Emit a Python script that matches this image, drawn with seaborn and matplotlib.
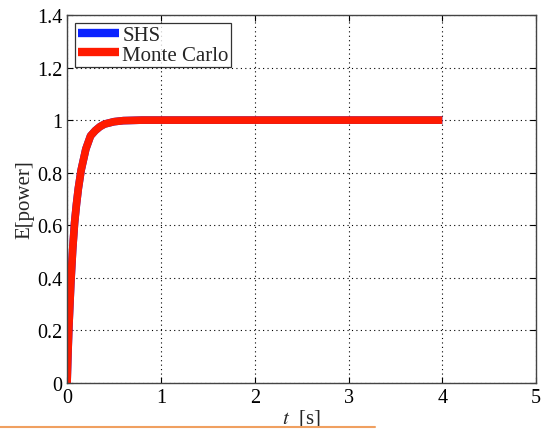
import numpy as np
import pandas as pd
import seaborn as sns
import matplotlib.pyplot as plt
from matplotlib.lines import Line2D

# Werte
t_werte = [0, 0.01, 0.02, 0.04, 0.06, 0.08, 0.1, 0.12, 0.15, 0.2, 0.25,
           0.3, 0.35, 0.4, 0.5, 0.6, 0.8, 1.0, 2.0, 3.0, 4.0]
e_shs = [0, 0.12, 0.22, 0.38, 0.51, 0.61, 0.68, 0.74, 0.81, 0.89, 0.94,
         0.96, 0.975, 0.985, 0.994, 0.998, 1.0, 1.0, 1.0, 1.0, 1.0]
e_mc = [0, 0.12, 0.22, 0.38, 0.51, 0.61, 0.68, 0.74, 0.81, 0.89, 0.94,
        0.96, 0.975, 0.985, 0.994, 0.998, 1.0, 1.0, 1.0, 1.0, 1.0]
serien = ["SHS", "Monte Carlo"]
farben = ["#0a22ff", "#ff1a00"]
x_ticks = [0, 1, 2, 3, 4, 5]
y_ticks = [0, 0.2, 0.4, 0.6, 0.8, 1, 1.2, 1.4]
y_labels = ["0", "0.2", "0.4", "0.6", "0.8", "1", "1.2", "1.4"]

df = pd.concat([
    pd.DataFrame({"t": t_werte, "E": e_shs, "Serie": serien[0]}),
    pd.DataFrame({"t": t_werte, "E": e_mc, "Serie": serien[1]}),
], ignore_index=True)

sns.set_style("ticks")
plt.rcParams["font.family"] = ["Liberation Serif", "DejaVu Serif"]
plt.rcParams["mathtext.fontset"] = "stix"

fig = plt.figure(figsize=(5.41, 4.31), dpi=100)
ax = fig.add_axes([0.124, 0.109, 0.867, 0.854])

sns.lineplot(data=df, x="t", y="E", hue="Serie", hue_order=serien,
             palette=farben, linewidth=5.5, ax=ax, sort=False,
             solid_capstyle="butt")

ax.set_xlim(0, 5)
ax.set_ylim(0, 1.4)
ax.set_xticks(x_ticks)
ax.set_xticklabels([str(v) for v in x_ticks])
ax.set_yticks(y_ticks)
ax.set_yticklabels(y_labels)
ax.grid(True, linestyle=(0, (1, 3)), color="black", linewidth=0.8)
ax.tick_params(direction="in", top=True, right=True, labelsize=14.5,
               length=4, width=0.8, colors="black")
for s in ax.spines.values():
    s.set_color("#444444")
    s.set_linewidth(1.0)

ax.set_xlabel(r"$t$  [s]", fontsize=15, labelpad=0)
ax.set_ylabel("E[power]", fontsize=15, labelpad=2)

leg = ax.legend(loc="upper left", fontsize=15, frameon=True, fancybox=False,
                edgecolor="black", borderpad=0.1, labelspacing=0.0,
                handlelength=2.0, handletextpad=0.15, borderaxespad=0.4)
leg.get_frame().set_linewidth(0.9)
leg.set_title(None)
for h in leg.get_lines():
    h.set_linewidth(6)

# orangefarbene Linie am unteren Bildrand
fig.add_artist(Line2D([0, 0.693], [0.006, 0.006], transform=fig.transFigure,
                      color="#f0a060", linewidth=1.5))

plt.savefig("out.png", dpi=100)
